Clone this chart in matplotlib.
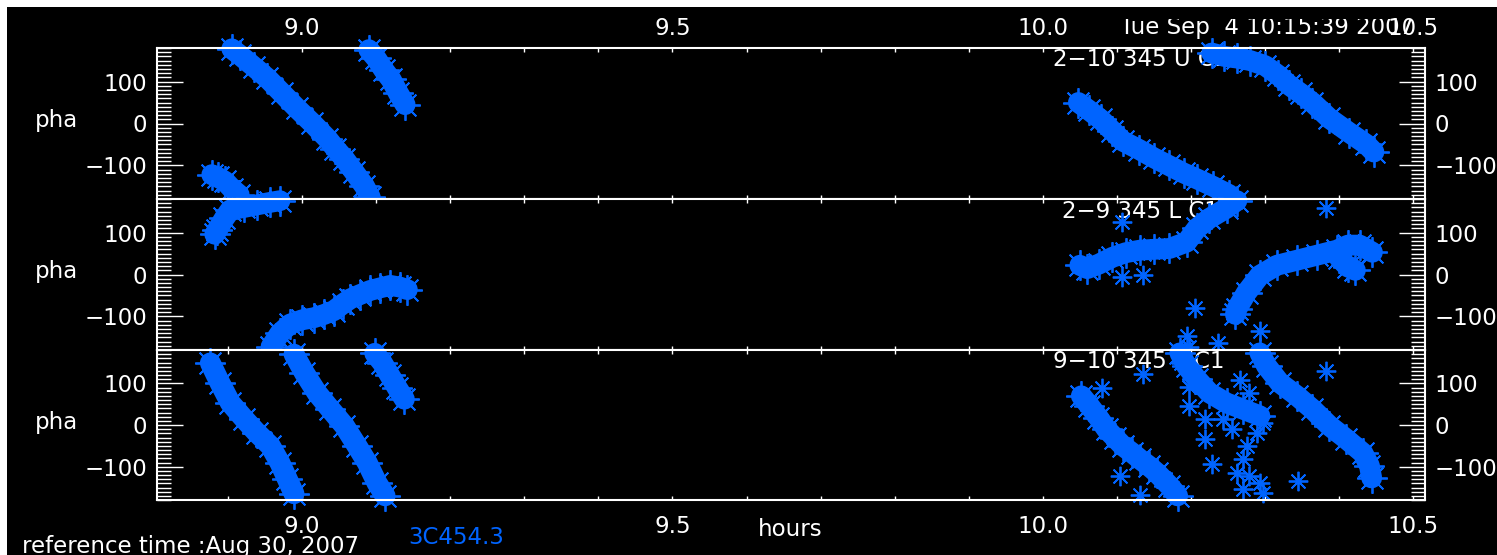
import numpy as np
import matplotlib.pyplot as plt
from matplotlib.patches import Rectangle
from matplotlib.ticker import MultipleLocator, FormatStrFormatter
from matplotlib.transforms import Bbox, TransformedBbox

W, H = 1497, 555
BLUE = '#0064ff'

# phase vs time (hours)
# panel 1 : 2-10
p1_bands = [
    ([8.905, 8.916, 8.935, 8.953, 8.973, 8.993, 9.013, 9.034, 9.045, 9.057, 9.070, 9.084, 9.092],
     [178, 163, 135, 108, 72, 36, 2, -36, -60, -84, -115, -149, -176]),
    ([9.090, 9.100, 9.110, 9.120, 9.130, 9.139],
     [176, 155, 128, 105, 72, 45]),
    ([8.878, 8.886, 8.896, 8.905, 8.915],
     [-122, -128, -138, -155, -170]),
    ([10.048, 10.062, 10.078, 10.094, 10.108, 10.130, 10.150, 10.170, 10.190, 10.208, 10.230, 10.252],
     [50, 32, 10, -18, -42, -62, -82, -100, -118, -132, -150, -170]),
    ([10.228, 10.245, 10.262, 10.280, 10.300, 10.318, 10.333, 10.348, 10.364, 10.387, 10.414, 10.437, 10.447],
     [168, 160, 156, 150, 138, 115, 91, 72, 50, 12, -22, -50, -68]),
]
p1_t = []
p1_ph = []

# panel 2 : 2-9
p2_bands = [
    ([8.882, 8.885, 8.895, 8.903, 8.922, 8.939, 8.957, 8.970],
     [96, 105, 134, 154, 160, 166, 172, 176]),
    ([8.958, 8.970, 8.984, 9.000, 9.016, 9.030, 9.043, 9.055, 9.065, 9.078, 9.092, 9.105, 9.119, 9.132, 9.142],
     [-172, -140, -118, -108, -103, -95, -86, -70, -58, -48, -38, -32, -26, -30, -36]),
    ([10.050, 10.060, 10.076, 10.094, 10.112, 10.131, 10.150, 10.171, 10.194, 10.208, 10.225, 10.248, 10.262],
     [22, 14, 25, 41, 52, 58, 60, 62, 77, 110, 134, 158, 176]),
    ([10.260, 10.262, 10.275, 10.293, 10.316, 10.343, 10.370, 10.397, 10.412, 10.428, 10.445],
     [-95, -82, -43, -2, 22, 34, 46, 58, 70, 70, 53]),
    ([10.400, 10.412, 10.422],
     [40, 18, 10]),
]
p2_t = [10.107, 10.107, 10.135, 10.205, 10.194, 10.198, 10.236, 10.293, 10.383]
p2_ph = [125, -7, -2, -79, -146, -172, -163, -134, 158]

# panel 3 : 9-10
p3_bands = [
    ([8.876, 8.889, 8.903, 8.922, 8.939, 8.957, 8.970, 8.980, 8.989],
     [149, 101, 53, 14, -19, -50, -91, -130, -165]),
    ([8.989, 9.003, 9.020, 9.038, 9.057, 9.074, 9.088, 9.101, 9.112],
     [170, 125, 77, 38, -2, -50, -91, -139, -170]),
    ([9.098, 9.108, 9.118, 9.128, 9.138],
     [172, 150, 120, 90, 62]),
    ([10.052, 10.063, 10.075, 10.086, 10.097, 10.108, 10.120, 10.131, 10.143, 10.154, 10.171, 10.182],
     [70, 46, 18, -10, -30, -50, -66, -82, -98, -115, -146, -170]),
    ([10.185, 10.194, 10.208, 10.225, 10.248, 10.270, 10.293],
     [173, 142, 110, 77, 53, 38, 22]),
    ([10.293, 10.302, 10.320, 10.343, 10.364, 10.387, 10.410, 10.432, 10.441, 10.444],
     [173, 142, 101, 70, 38, -2, -34, -67, -98, -127]),
]
p3_t = [10.080, 10.135, 10.383, 10.198, 10.198, 10.219, 10.219, 10.229, 10.344, 10.256, 10.289, 10.275,
        10.270, 10.262, 10.279, 10.293, 10.270, 10.297, 10.266, 10.279, 10.243, 10.297, 10.104, 10.131, 10.187]
p3_ph = [89, 122, 130, 91, 46, 14, -34, -94, -134, -10, -19, -50,
         -82, -115, -122, -139, -154, -163, 108, 77, 14, 5, -122, -168, 150]

titles = ['2\u221210 345 U C1', '2\u22129 345 L C1', '9\u221210 345 L C1']
title_x = [1053, 1062, 1053]
title_y = [60, 212, 361]

panels = [(p1_bands, p1_t, p1_ph), (p2_bands, p2_t, p2_ph), (p3_bands, p3_t, p3_ph)]
tops = [48, 199, 350]
bots = [199, 350, 500]
left, right = 157, 1425

plt.rcParams['font.family'] = 'DejaVu Sans'
FS = 16.5

fig = plt.figure(figsize=(W / 100, H / 100), dpi=100, facecolor='white')
fig.patches.append(Rectangle((7 / W, 0), 1, 1 - 7 / H, transform=fig.transFigure,
                             facecolor='black', edgecolor='none', zorder=-10))

star = (8, 2, 0)
for i, (bands, it, iph) in enumerate(panels):
    ax = fig.add_axes([left / W, 1 - bots[i] / H, (right - left) / W, (bots[i] - tops[i]) / H])
    ax.set_facecolor('black')
    ax.set_xlim(8.804, 10.516)
    ax.set_ylim(-180, 180)
    for s in ax.spines.values():
        s.set_color('white')
        s.set_linewidth(1.5)

    # dense runs of points drawn as a thick trail with star markers on it
    for t, ph in bands:
        ax.plot(t, ph, '-', color=BLUE, lw=15, solid_capstyle='round', zorder=2, clip_on=False)
        ax.plot(t, ph, ls='none', marker=star, ms=22, mew=1.3, color=BLUE, zorder=2, clip_on=False)
    if it:
        ax.plot(it, iph, ls='none', marker=star, ms=14, mew=1.3, color=BLUE, zorder=2, clip_on=False)

    ax.text((title_x[i] - left) / (right - left), (bots[i] - title_y[i]) / (bots[i] - tops[i]),
            titles[i], transform=ax.transAxes, color='white', fontsize=FS, va='center', ha='left', zorder=1)

    ax.xaxis.set_major_locator(MultipleLocator(0.5))
    ax.xaxis.set_minor_locator(MultipleLocator(0.1))
    ax.xaxis.set_major_formatter(FormatStrFormatter('%.1f'))
    ax.yaxis.set_major_locator(MultipleLocator(100))
    ax.yaxis.set_minor_locator(MultipleLocator(10))
    ax.tick_params(axis='x', which='both', direction='in', top=True, bottom=True,
                   length=3, width=1, color='white', labelcolor='white', labelsize=FS,
                   labeltop=(i == 0), labelbottom=(i == 2))
    ax.tick_params(axis='x', which='major', pad=11 if i == 2 else 6)
    ax.tick_params(axis='y', which='both', direction='in', left=True, right=True,
                   width=1, color='white', labelcolor='white', labelsize=FS,
                   labelleft=True, labelright=True, pad=7)
    ax.tick_params(axis='y', which='major', length=19)
    ax.tick_params(axis='y', which='minor', length=10)

    fig.text(35 / W, 1 - ((tops[i] + bots[i]) / 2 - 3) / H, 'pha', color='white',
             fontsize=FS, va='center', ha='left')

fig.text(790 / W, 1 - 530 / H, 'hours', color='white', fontsize=FS, ha='center', va='center')
fig.text(22 / W, 1 - 546 / H, 'reference time :Aug 30, 2007', color='white', fontsize=FS,
         ha='left', va='center')
fig.text(408 / W, 1 - 537 / H, '3C454.3', color=BLUE, fontsize=FS, ha='left', va='center')

# time stamp, top of it cut off as in the original window
date = fig.text(1120 / W, 1 - 34 / H, 'Tue Sep  4 10:15:39 2007', color='white', fontsize=FS,
                ha='left', va='baseline')
date.set_clip_box(TransformedBbox(Bbox([[0, 0], [1, 1 - 19 / H]]), fig.transFigure))
date.set_clip_on(True)

fig.savefig('out.png', dpi=100, facecolor=fig.get_facecolor())
